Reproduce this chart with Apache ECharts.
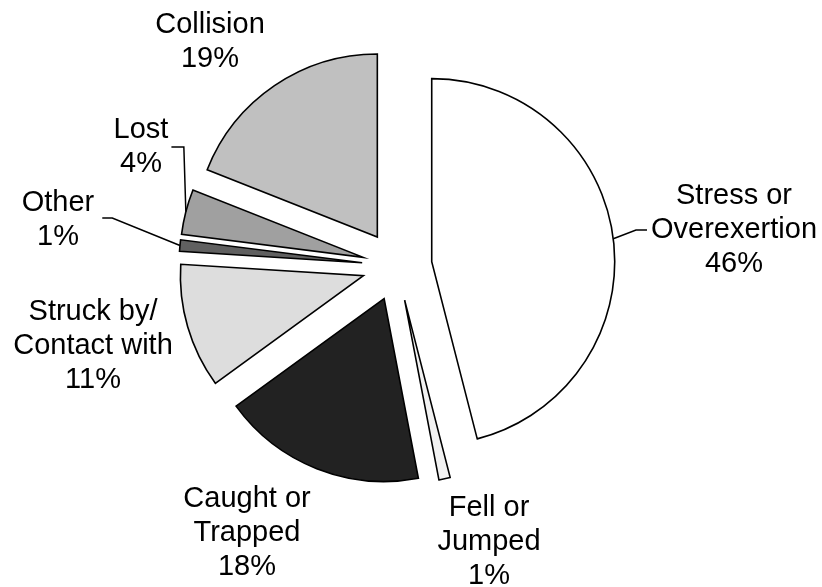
<!DOCTYPE html>
<html><head><meta charset="utf-8">
<script src="https://cdn.jsdelivr.net/npm/echarts@6/dist/echarts.min.js"></script>
<style>html,body{margin:0;padding:0;background:#fff}#c{width:822px;height:587px}</style>
</head><body><div id="c"></div>
<script>
const categories = ['Stress or\nOverexertion', 'Fell or\nJumped', 'Caught or\nTrapped', 'Struck by/\nContact with', 'Other', 'Lost', 'Collision'];
const values = [46, 1, 18, 11, 1, 4, 19];
const colors = ['#ffffff', '#f2f2f2', '#222222', '#dddddd', '#606060', '#a0a0a0', '#c0c0c0'];
const labelCenters = [[734, 230], [489, 542], [247, 533], [93, 346], [58, 220], [141, 147], [210, 42]];

const CX = 397, CY = 266, R = 183, OFF = 35;
const total = values.reduce((a, b) => a + b, 0);
function arcMid(i) {
  let before = 0;
  for (let k = 0; k < i; k++) before += values[k];
  const mid = (before + values[i] / 2) / total * 2 * Math.PI;
  return [CX + (OFF + R) * Math.sin(mid), CY - (OFF + R) * Math.cos(mid)];
}

const chart = echarts.init(document.getElementById('c'), null, {renderer: 'canvas'});
const sliceData = categories.map((n, i) => ({
  name: n, value: values[i], selected: true, itemStyle: {color: colors[i]}
}));
const labelData = categories.map((n, i) => ({
  name: n, value: values[i],
  labelLine: {show: i === 0 || i === 4 || i === 5}
}));

chart.setOption({
  animation: false,
  backgroundColor: '#ffffff',
  series: [{
    type: 'pie',
    center: [CX, CY],
    radius: [0, R],
    startAngle: 90,
    clockwise: true,
    selectedMode: 'multiple',
    selectedOffset: OFF,
    silent: true,
    emphasis: {disabled: true},
    itemStyle: {borderColor: '#000', borderWidth: 1.6, borderJoin: 'miter'},
    select: {itemStyle: {borderColor: '#000', borderWidth: 1.6}},
    label: {show: false},
    labelLine: {show: false},
    data: sliceData
  }, {
    type: 'pie',
    z: 5,
    center: [CX, CY],
    radius: [0, R],
    startAngle: 90,
    clockwise: true,
    selectedMode: false,
    silent: true,
    emphasis: {disabled: true},
    avoidLabelOverlap: false,
    itemStyle: {color: 'rgba(0,0,0,0)', borderWidth: 0},
    label: {
      show: true,
      position: 'outside',
      formatter: p => p.name + '\n' + p.value + '%',
      fontFamily: 'Liberation Sans, Arial, sans-serif',
      fontSize: 29,
      lineHeight: 34,
      color: '#000',
      align: 'center'
    },
    labelLine: {lineStyle: {color: '#000', width: 1.5}, length: 10, length2: 10},
    labelLayout: function (params) {
      const i = params.dataIndex;
      const [x, y] = labelCenters[i];
      const w = params.labelRect.width;
      const res = {x: x, y: y, align: 'center', verticalAlign: 'middle'};
      const a = arcMid(i);
      if (i === 0) {
        const left = x - w / 2;
        res.labelLinePoints = [a, [left - 15, y], [left - 4, y]];
      } else if (i === 5) {
        const right = x + w / 2;
        res.labelLinePoints = [a, [a[0] - 2, y], [right + 3, y]];
      } else if (i === 4) {
        const right = x + w / 2;
        res.labelLinePoints = [a, [right + 18, y - 2], [right + 8, y - 2]];
      }
      return res;
    },
    data: labelData
  }]
});
</script>
</body></html>
